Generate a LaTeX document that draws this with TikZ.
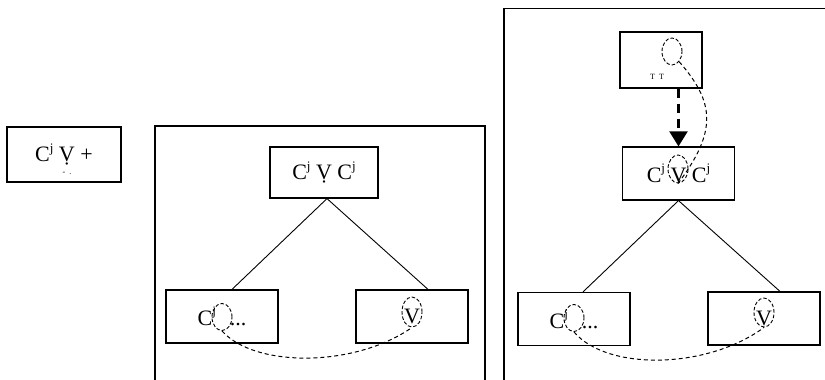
\documentclass[tikz,border=0pt]{standalone}
\usepackage{fontspec}
\setmainfont{Liberation Serif}
\usetikzlibrary{arrows.meta, positioning, calc, shapes.geometric}

% small raised letter for the palatal mark
\newcommand{\hi}[1]{\raisebox{.45em}{\fontsize{13}{13}\selectfont #1}}

\tikzset{
  box/.style={draw, line width=1.2pt, minimum width=112pt, minimum height=53pt, inner sep=0pt, font=\fontsize{22}{25}\selectfont},
  frame/.style={line width=1.4pt},
  branch/.style={line width=0.9pt},
  ring/.style={draw, ellipse, line width=0.9pt, dash pattern=on 3.5pt off 2pt, inner sep=0pt, minimum width=20pt, minimum height=27pt},
  link/.style={line width=1pt, dash pattern=on 4pt off 3pt},
  moveline/.style={line width=2.2pt, dash pattern=on 9pt off 6pt, -{Triangle[length=15pt,width=18pt]}},
  tick/.style={inner sep=0pt, font=\fontsize{8}{8}\selectfont},
}

\begin{document}
\begin{tikzpicture}[x=1pt,y=-1pt]
  \useasboundingbox (0,0) rectangle (825,380);

  % lone syllable
  \node[box, minimum width=114pt, minimum height=55pt] (lone) at (64,154.5) {C\hi{j} \d{V} +};
  \node[tick] (lonemark) at (67,173) {-\hspace{4pt}.};

  % first tree
  \draw[frame] (155,380) -- (155,126) -- (485,126) -- (485,380);
  \node[box, minimum width=108pt, minimum height=51pt] (top1) at (324,172.5) {C\hi{j} \d{V} C\hi{j}};
  \node[box] (left1) at (222,316.5) {C\hi{j}\hspace{14pt}...};
  \node[box] (right1) at (412,316.5) {V};
  \draw[branch] ([xshift=3pt]top1.south) -- ([xshift=10pt]left1.north);
  \draw[branch] ([xshift=3pt]top1.south) -- ([xshift=16pt]right1.north);
  \node[ring] (hole1) at (222,317) {};
  \node[ring, minimum height=30pt] (vow1) at (412,312) {};
  \draw[link] (hole1.south) .. controls +(33,37) and +(-57,40) .. (vow1.south);

  % second tree, with the moved vowel
  \draw[frame] (504,380) -- (504,8.5) -- (825,8.5);
  \node[box, minimum width=82pt, minimum height=56pt] (top2) at (661,60) {};
  \node[ring] (src) at (672,51.5) {};
  \node[tick] (topmark) at (657,77) {T\hspace{4pt}T};
  \node[box] (mid2) at (678.5,173.5) {C\hi{j} V C\hi{j}};
  \node[ring, minimum height=28pt] (vow2) at (678,169) {};
  \node[box] (left2) at (574,319) {C\hi{j}\hspace{14pt}...};
  \node[box] (right2) at (764,318.5) {V};
  \draw[moveline] (top2.south -| mid2.north) -- (mid2.north);
  \draw[branch] (mid2.south) -- ([xshift=9pt]left2.north);
  \draw[branch] (mid2.south) -- ([xshift=16pt]right2.north);
  \node[ring] (hole2) at (574,318) {};
  \node[ring, minimum height=29pt] (vow3) at (764,312.5) {};
  \draw[link] (src.-55) .. controls +(35,40) and +(40,-53) .. (vow2.south);
  \draw[link] (hole2.south) .. controls +(33,39) and +(-57,42) .. (vow3.south);
\end{tikzpicture}
\end{document}
